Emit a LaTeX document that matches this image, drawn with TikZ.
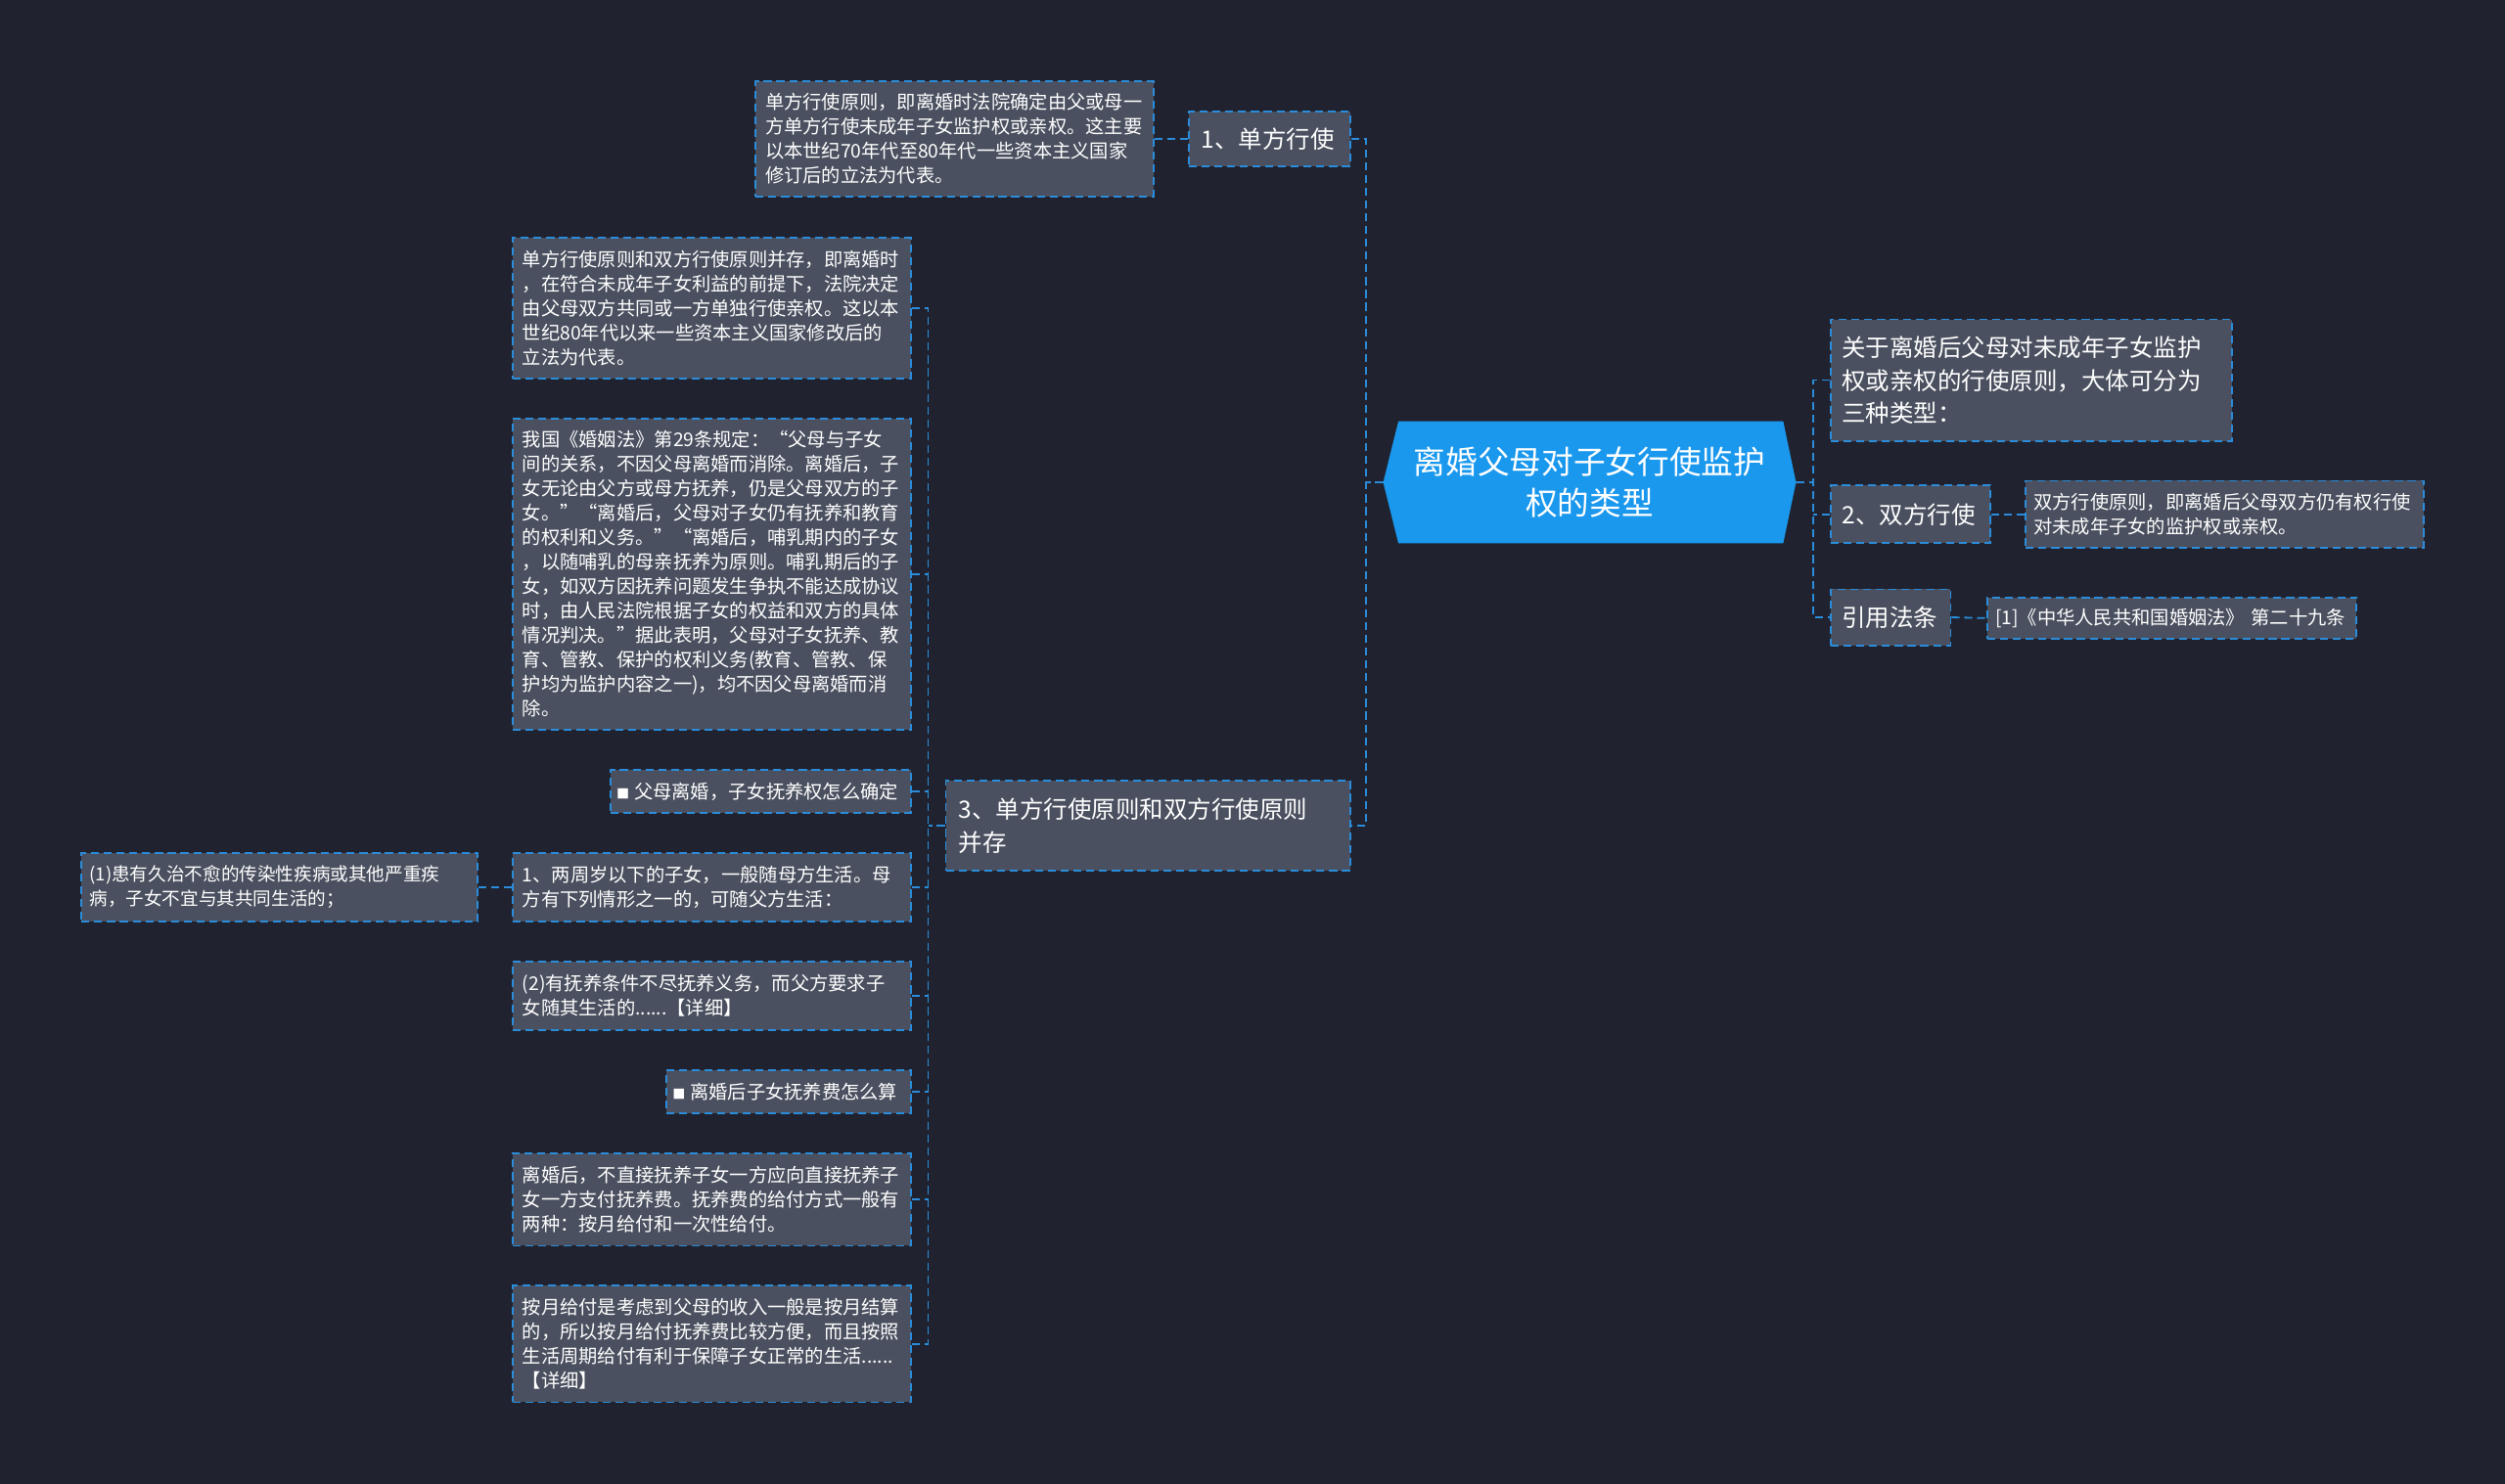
\documentclass[tikz,border=0pt]{standalone}
\usepackage{fontspec}
\setmainfont{Noto Sans CJK SC}
\usetikzlibrary{calc}
\definecolor{bgc}{RGB}{32,35,47}
\definecolor{nodefill}{RGB}{74,80,95}
\definecolor{lineblue}{RGB}{42,140,218}
\definecolor{ctrfill}{RGB}{26,152,238}
\pgfdeclarelayer{bg}
\pgfsetlayers{bg,main}
\begin{document}
\begin{tikzpicture}[x=1pt,y=-1pt,
  box/.style={draw=lineblue, dash pattern=on 5pt off 3pt, line width=1.1pt, fill=nodefill, text=white, align=left, inner xsep=0pt, inner ysep=0pt},
  small/.style={box, font=\fontsize{11.8}{15.3}\selectfont},
  mid/.style={box, font=\fontsize{15}{20.5}\selectfont},
  conn/.style={draw=lineblue, dash pattern=on 5pt off 3pt, line width=1.1pt},
  ctrtext/.style={text=white, align=center, font=\fontsize{20}{26}\selectfont, inner sep=0pt}
]
\begin{pgfonlayer}{bg}
\fill[bgc] (0,0) rectangle (1568,929);
\end{pgfonlayer}
\useasboundingbox (0,0) rectangle (1568,929);

% central
\node[ctrtext, minimum width=258pt, minimum height=76pt] (ctr) at (995,302) {离婚父母对子女行使监护\\权的类型};
\begin{pgfonlayer}{bg}
\fill[ctrfill] ([xshift=9.5pt]ctr.north west) -- ([xshift=-8pt]ctr.north east) -- (ctr.east) -- ([xshift=-8pt]ctr.south east) -- ([xshift=9.5pt]ctr.south west) -- (ctr.west) -- cycle;
\end{pgfonlayer}

% left branch 1
\node[mid, minimum width=101pt, minimum height=34pt, text width=85pt] (A) at (794.5,87) {1、单方行使};
\node[small, minimum width=249pt, minimum height=72pt, text width=237pt] (A1) at (597.5,87) {单方行使原则，即离婚时法院确定由父或母一\\方单方行使未成年子女监护权或亲权。这主要\\以本世纪70年代至80年代一些资本主义国家\\修订后的立法为代表。};

% left branch 3
\node[mid, minimum width=253pt, minimum height=56pt, text width=237pt] (C) at (718.5,517) {3、单方行使原则和双方行使原则\\并存};
\node[small, minimum width=249pt, minimum height=88pt, text width=237pt] (C1) at (445.5,193) {单方行使原则和双方行使原则并存，即离婚时\\，在符合未成年子女利益的前提下，法院决定\\由父母双方共同或一方单独行使亲权。这以本\\世纪80年代以来一些资本主义国家修改后的\\立法为代表。};
\node[small, minimum width=249pt, minimum height=195pt, text width=237pt] (C2) at (445.5,359.5) {我国《婚姻法》第29条规定：“父母与子女\\间的关系，不因父母离婚而消除。离婚后，子\\女无论由父方或母方抚养，仍是父母双方的子\\女。”“离婚后，父母对子女仍有抚养和教育\\的权利和义务。”“离婚后，哺乳期内的子女\\，以随哺乳的母亲抚养为原则。哺乳期后的子\\女，如双方因抚养问题发生争执不能达成协议\\时，由人民法院根据子女的权益和双方的具体\\情况判决。”据此表明，父母对子女抚养、教\\育、管教、保护的权利义务(教育、管教、保\\护均为监护内容之一)，均不因父母离婚而消\\除。};
\node[small, minimum width=188pt, minimum height=27pt, text width=180pt] (C3) at (476,495.5) {{\fontsize{8}{8}\selectfont ■}\hspace{3pt}父母离婚，子女抚养权怎么确定};
\node[small, minimum width=249pt, minimum height=43pt, text width=237pt] (C4) at (445.5,555.5) {1、两周岁以下的子女，一般随母方生活。母\\方有下列情形之一的，可随父方生活：};
\node[small, minimum width=248pt, minimum height=43pt, text width=238pt] (C4a) at (175,555.5) {\fontsize{11.4}{15.3}\selectfont (1)患有久治不愈的传染性疾病或其他严重疾\\病，子女不宜与其共同生活的；};
\node[small, minimum width=249pt, minimum height=43pt, text width=237pt] (C5) at (445.5,623.5) {(2)有抚养条件不尽抚养义务，而父方要求子\\女随其生活的......【详细】};
\node[small, minimum width=153pt, minimum height=27pt, text width=145pt] (C6) at (493.5,683.5) {{\fontsize{8}{8}\selectfont ■}\hspace{3pt}离婚后子女抚养费怎么算};
\node[small, minimum width=249pt, minimum height=58pt, text width=237pt] (C7) at (445.5,751) {离婚后，不直接抚养子女一方应向直接抚养子\\女一方支付抚养费。抚养费的给付方式一般有\\两种：按月给付和一次性给付。};
\node[small, minimum width=249pt, minimum height=73pt, text width=237pt] (C8) at (445.5,841.5) {按月给付是考虑到父母的收入一般是按月结算\\的，所以按月给付抚养费比较方便，而且按照\\生活周期给付有利于保障子女正常的生活......\\【详细】};

% right side
\node[mid, minimum width=251pt, minimum height=76pt, text width=237pt] (R1) at (1271.5,238) {关于离婚后父母对未成年子女监护\\权或亲权的行使原则，大体可分为\\三种类型：};
\node[mid, minimum width=100pt, minimum height=36pt, text width=86pt] (R2) at (1196,322) {2、双方行使};
\node[small, minimum width=249pt, minimum height=42pt, text width=239pt] (R2a) at (1392.5,322) {双方行使原则，即离婚后父母双方仍有权行使\\对未成年子女的监护权或亲权。};
\node[mid, minimum width=75pt, minimum height=35pt, text width=61pt] (R3) at (1183.5,386.5) {引用法条};
\node[small, minimum width=231pt, minimum height=26pt, text width=221pt] (R3a) at (1359.5,387) {[1]《中华人民共和国婚姻法》 第二十九条};

% trunks
\coordinate (tL) at (855,0);
\coordinate (tR) at (1135,0);
\coordinate (tC) at (581,0);

\draw[conn] (ctr.west) -- (ctr.west -| tL);
\draw[conn] (A.east) -- (A.east -| tL) -- (C.east -| tL) -- (C.east);
\draw[conn] (A1.east) -- (A.west);
\draw[conn] (ctr.east) -- (ctr.east -| tR);
\draw[conn] (R1.west) -- (R1.west -| tR) -- (R3.west -| tR) -- (R3.west);
\draw[conn] (R2.west) -- (R2.west -| tR);
\draw[conn] (R2.east) -- (R2a.west);
\draw[conn] (R3.east) -- (R3a.west);
\draw[conn] (C.west) -- (C.west -| tC);
\draw[conn] (C1.east) -- (C1.east -| tC) -- (C8.east -| tC) -- (C8.east);
\foreach \n in {C2,C3,C4,C5,C6,C7} \draw[conn] (\n.east) -- (\n.east -| tC);
\draw[conn] (C4a.east) -- (C4.west);
\end{tikzpicture}
\end{document}
